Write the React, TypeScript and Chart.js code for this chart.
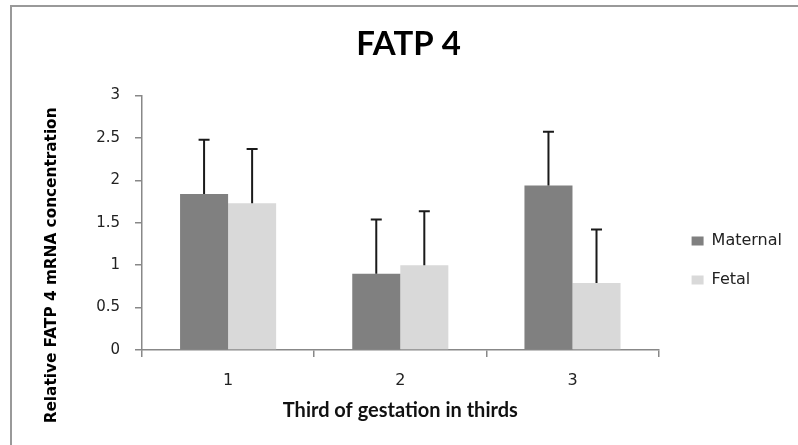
import React, { useEffect, useRef } from 'react';
import { Chart, registerables } from 'chart.js';

Chart.register(...registerables);

const categories = ['1', '2', '3'];
const seriesNames = ['Maternal', 'Fetal'];
const maternal = [1.84, 0.9, 1.94];
const fetal = [1.73, 1.0, 0.79];
const maternalErr = [0.64, 0.64, 0.635];
const fetalErr = [0.64, 0.635, 0.63];
const yTicks = [0, 0.5, 1, 1.5, 2, 2.5, 3];
const yTickLabels = ['0', '0.5', '1', '1.5', '2', '2.5', '3'];

const errorSets = [maternalErr, fetalErr];
const seriesColors = ['#808080', '#d9d9d9'];

const errorBars = {
  id: 'errorBars',
  afterDatasetsDraw(chart: any) {
    const ctx = chart.ctx;
    const y = chart.scales.y;
    chart.data.datasets.forEach((ds: any, di: number) => {
      const meta = chart.getDatasetMeta(di);
      const errs = errorSets[di];
      meta.data.forEach((bar: any, i: number) => {
        const v = ds.data[i] as number;
        const top = y.getPixelForValue(v + errs[i]);
        ctx.save();
        ctx.strokeStyle = '#1a1a1a';
        ctx.lineWidth = 2;
        ctx.beginPath();
        ctx.moveTo(bar.x, bar.y);
        ctx.lineTo(bar.x, top);
        ctx.moveTo(bar.x - 5.5, top);
        ctx.lineTo(bar.x + 5.5, top);
        ctx.stroke();
        ctx.restore();
      });
    });
  },
};

const nudge = {
  id: 'nudge',
  afterLayout(chart: any) {
    const t = chart.titleBlock;
    if (t) {
      t.left += 12;
      t.right += 12;
    }
    const l = chart.legend;
    if (l) {
      l.left += 10;
      l.right += 10;
      l.top += 35;
      l.bottom += 35;
    }
  },
};

export default function App() {
  const ref = useRef<HTMLCanvasElement | null>(null);

  useEffect(() => {
    if (!ref.current) return;
    const chart = new Chart(ref.current, {
      type: 'bar',
      data: {
        labels: categories,
        datasets: [
          {
            label: seriesNames[0],
            data: maternal,
            backgroundColor: seriesColors[0],
            borderWidth: 0,
            categoryPercentage: 0.558,
            barPercentage: 1,
          },
          {
            label: seriesNames[1],
            data: fetal,
            backgroundColor: seriesColors[1],
            borderWidth: 0,
            categoryPercentage: 0.558,
            barPercentage: 1,
          },
        ],
      },
      options: {
        responsive: false,
        animation: false,
        layout: { padding: { left: 11, top: 6, right: 16, bottom: 0 } },
        plugins: {
          title: {
            display: true,
            text: 'FATP 4',
            color: '#000',
            font: { family: 'Lato', size: 33, weight: 'bold' },
            padding: { top: 19, bottom: 31 },
          },
          legend: {
            position: 'right',
            labels: {
              boxWidth: 12,
              boxHeight: 9,
              padding: 23,
              color: '#222',
              font: { family: 'DejaVu Sans', size: 16 },
            },
          },
          tooltip: { enabled: false },
        },
        scales: {
          x: {
            afterFit: (s: any) => {
              s.height = 95;
            },
            grid: {
              offset: true,
              drawOnChartArea: false,
              tickLength: 7,
              color: '#888',
              lineWidth: 1.5,
            },
            border: { color: '#888', width: 1.5 },
            ticks: {
              color: '#222',
              padding: 14,
              font: { family: 'DejaVu Sans', size: 16 },
            },
            title: {
              display: true,
              text: 'Third of gestation in thirds',
              color: '#111',
              font: { family: 'Lato', size: 20, weight: 'bold' },
              padding: { top: 0, bottom: 22.5 },
            },
          },
          y: {
            min: 0,
            max: 3,
            afterFit: (s: any) => {
              s.width = 131;
            },
            afterBuildTicks: (s: any) => {
              s.ticks = yTicks.map((v) => ({ value: v }));
            },
            grid: {
              drawOnChartArea: false,
              tickLength: 7,
              color: '#888',
              lineWidth: 1.5,
            },
            border: { color: '#888', width: 1.5 },
            ticks: {
              color: '#222',
              padding: 15,
              font: { family: 'DejaVu Sans', size: 15 },
              callback: (_v: any, i: number) => yTickLabels[i],
            },
            title: {
              display: true,
              text: 'Relative FATP 4 mRNA concentration' + ' '.repeat(16),
              color: '#000',
              font: { family: 'DejaVu Sans', size: 15.3, weight: 'bold' },
              padding: { top: 32, bottom: 0 },
            },
          },
        },
      },
      plugins: [errorBars, nudge],
    });
    return () => chart.destroy();
  }, []);

  return (
    <div
      style={{
        position: 'fixed',
        left: 0,
        top: 0,
        width: 798,
        height: 445,
        background: '#fff',
        overflow: 'hidden',
      }}
    >
      <canvas ref={ref} width={798} height={445} style={{ width: 798, height: 445, display: 'block' }} />
      <div
        style={{
          position: 'absolute',
          left: 10,
          top: 5,
          width: 800,
          height: 450,
          borderLeft: '2px solid #999',
          borderTop: '2px solid #999',
          pointerEvents: 'none',
        }}
      />
    </div>
  );
}
